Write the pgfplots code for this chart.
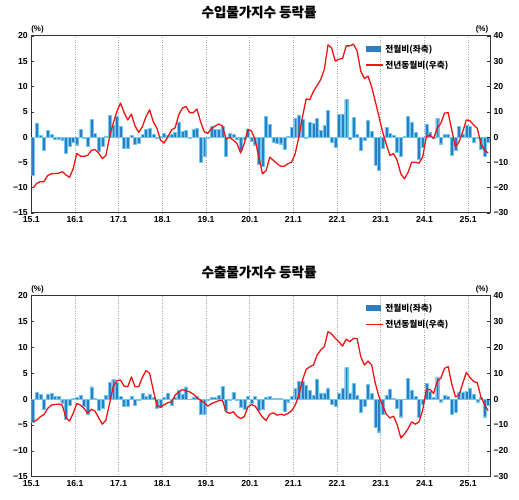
\documentclass[border=0pt]{standalone}
\usepackage{pgfplots}
\pgfplotsset{compat=1.18}
\usepackage{pgfplotstable}
\usepackage{fontspec}
\setmainfont{Liberation Sans}
\newfontfamily\kr{Noto Sans CJK KR}

\definecolor{barblue}{RGB}{45,125,195}
\definecolor{baredge}{RGB}{110,200,240}
\definecolor{linered}{RGB}{240,20,20}

% i = month index from 2015.01, b = m/m change (left), l = y/y change (right)
\pgfplotstableread{
i b l
0 -7.5 -20.1
1 2.8 -18.3
2 0.3 -17.6
3 -2.5 -17.6
4 1.3 -15.2
5 0.6 -14.5
6 -0.4 -14.4
7 -0.4 -14.3
8 -0.7 -13.6
9 -3.2 -14.9
10 -1.8 -15.9
11 -1.1 -12.5
12 -1.5 -6.5
13 1.5 -7.5
14 -0.2 -7.6
15 -1.8 -7.2
16 3.5 -5.2
17 0.8 -4.9
18 -2.8 -6.3
19 -1.8 -8.5
20 0.2 -7.2
21 4.3 0.1
22 2.4 5.5
23 4.2 10.1
24 2.2 13.5
25 -2.2 9.7
26 -2.2 6.8
27 0.3 9.1
28 -1.4 4.4
29 -1.2 1.9
30 0.5 4.1
31 1.5 8.1
32 1.7 10.8
33 0.6 6.1
34 -0.3 3.5
35 0.1 -1.2
36 0.7 -2.3
37 0.3 0.1
38 0.6 2.8
39 1.0 3.7
40 3.0 8.8
41 1.2 11.5
42 1.3 12.1
43 -0.3 9.7
44 1.6 9.7
45 1.7 11.1
46 -4.9 6.1
47 -3.7 2.1
48 -0.2 1.5
49 2.2 3.5
50 1.6 4.4
51 1.6 5.2
52 2.2 4.4
53 -3.7 -0.7
54 0.8 -0.1
55 0.5 -1.2
56 -0.5 -2.5
57 -2.5 -6.3
58 -0.5 -2.5
59 1.5 3.1
60 -0.8 2.4
61 -1.5 -1.2
62 -5.3 -7.9
63 -5.8 -14.5
64 4.1 -13.2
65 2.5 -7.9
66 -1.0 -9.2
67 -1.2 -10.5
68 -1.3 -11.5
69 -2.3 -11.5
70 0.1 -10.5
71 2.0 -9.9
72 3.7 -6.5
73 4.4 0.1
74 3.5 8.1
75 -0.3 15.1
76 3.0 14.8
77 2.7 18.1
78 3.7 20.4
79 1.3 22.8
80 2.3 26.8
81 5.3 36.5
82 -1.0 35.2
83 -2.0 30.1
84 4.5 30.8
85 4.6 31.1
86 7.5 36.1
87 -0.5 36.1
88 3.9 36.8
89 0.5 34.1
90 -2.5 26.1
91 -0.6 23.2
92 3.3 24.1
93 1.2 19.9
94 -5.5 14.1
95 -6.5 8.1
96 -2.2 2.1
97 2.0 -2.8
98 0.8 -7.2
99 0.3 -6.5
100 -2.9 -9.2
101 -3.7 -14.5
102 0.1 -16.5
103 4.1 -13.9
104 3.0 -9.9
105 1.0 -9.9
106 -4.3 -10.3
107 -2.0 -7.9
108 2.6 0.1
109 1.0 0.8
110 -0.3 -0.5
111 3.7 3.5
112 -1.3 5.5
113 0.5 9.5
114 0.5 9.7
115 -3.5 2.8
116 -2.6 -3.9
117 2.1 -1.9
118 0.5 2.1
119 2.3 6.8
120 2.2 6.5
121 -1.1 4.8
122 -0.3 3.5
123 -2.3 -2.5
124 -3.7 -5.2
125 -1.0 -6.3
}\importdata

\pgfplotstableread{
i b l
0 -4.4 -8.8
1 1.3 -8.1
2 0.9 -6.8
3 -1.9 -5.9
4 1.0 -3.6
5 1.1 -2.3
6 0.5 -2.1
7 0.5 -1.9
8 -0.8 -2.3
9 -3.9 -7.2
10 -1.2 -8.5
11 0.2 -5.5
12 0.4 -1.7
13 0.8 -2.3
14 -1.3 -3.6
15 -2.9 -5.5
16 2.4 -3.9
17 0.1 -4.6
18 -2.2 -7.2
19 -1.8 -9.7
20 0.7 -8.1
21 3.3 -1.7
22 3.8 4.8
23 3.3 7.1
24 0.5 7.4
25 -1.4 5.0
26 -1.4 4.8
27 0.6 8.6
28 -1.2 4.8
29 -0.3 4.8
30 1.1 8.4
31 0.6 11.0
32 1.0 10.0
33 0.3 3.5
34 -1.7 -2.3
35 -1.5 -3.2
36 0.3 -2.1
37 1.2 -1.4
38 -1.2 -1.0
39 0.3 1.5
40 1.8 2.8
41 1.0 3.7
42 2.4 3.2
43 0.0 2.8
44 0.3 1.9
45 0.5 0.6
46 -3.0 -0.4
47 -2.9 -1.4
48 -0.3 -2.7
49 0.4 -1.7
50 0.3 -1.2
51 0.7 -0.6
52 2.5 -0.4
53 -2.2 -4.9
54 -0.3 -5.5
55 1.3 -4.9
56 -0.3 -6.6
57 -1.6 -7.5
58 -2.0 -6.8
59 0.5 -3.0
60 -0.8 -2.1
61 0.6 -2.7
62 -2.1 -4.9
63 -2.0 -7.0
64 0.4 -8.3
65 0.5 -5.8
66 0.1 -5.3
67 0.1 -6.2
68 0.1 -5.8
69 -2.3 -6.2
70 -0.5 -5.5
71 0.5 -4.5
72 2.1 -2.3
73 3.5 1.5
74 3.5 7.4
75 2.6 11.5
76 1.7 12.5
77 0.7 13.2
78 3.9 17.0
79 1.2 19.0
80 1.2 20.3
81 2.2 26.1
82 -0.9 25.2
83 -1.3 23.5
84 1.2 22.2
85 2.1 20.5
86 6.1 23.2
87 1.2 22.2
88 3.0 23.5
89 0.8 23.4
90 -2.5 16.4
91 -1.4 13.2
92 2.8 14.7
93 1.1 13.2
94 -5.5 6.1
95 -6.3 0.9
96 -3.0 -2.3
97 0.8 -5.8
98 2.0 -7.3
99 0.2 -6.6
100 -1.7 -9.9
101 -3.4 -15.0
102 0.0 -13.5
103 4.0 -11.4
104 1.8 -8.8
105 0.5 -9.7
106 -3.5 -8.8
107 -1.0 -4.3
108 3.0 3.5
109 1.5 3.8
110 0.3 2.2
111 4.3 6.8
112 -0.5 8.1
113 0.7 11.9
114 0.6 12.6
115 -2.9 5.8
116 -2.6 0.9
117 1.3 1.6
118 1.4 6.1
119 1.5 10.3
120 2.2 8.4
121 1.0 6.8
122 -0.5 6.4
123 0.3 0.9
124 -3.4 -2.1
125 -1.2 -4.5
}\exportdata

\pgfplotsset{
  panel/.style={
    scale only axis, width=458.7pt, anchor=south west,
    xmin=-0.5, xmax=125.5,
    axis line style={line width=1pt, black!80},
    tick align=inside, major tick length=3pt,
    tick style={black!80, line width=0.6pt},
    ticklabel style={font=\bfseries\fontsize{8.7}{10}\selectfont},
  },
  barax/.style={
    panel,
    ymin=-15, ymax=20, ytick={-15,-10,...,20},
    yticklabels={−15,−10,−5,0,5,10,15,20},
    ytick pos=left,
    xtick={-0.5,11.5,...,119.5},
    xticklabels={15.1,16.1,17.1,18.1,19.1,20.1,21.1,22.1,23.1,24.1,25.1},
    xtick style={draw=none},
    xmajorgrids, major grid style={dotted, black!35, line width=0.6pt},
  },
  lineax/.style={
    panel,
    ymin=-30, ymax=40, ytick={-30,-20,...,40},
    yticklabels={−30,−20,−10,0,10,20,30,40},
    axis y line*=right, hide x axis,
    legend style={draw=none, fill=none, font=\kr\bfseries\fontsize{8.7}{10}\selectfont,
      anchor=north west, row sep=3pt, inner sep=1pt},
    legend cell align=left,
  },
}

\newcommand\panelbars[1]{%
  \draw[black!35, line width=0.6pt] (axis cs:-0.5,0) -- (axis cs:125.5,0);
  \addplot[ybar, bar width=3pt, fill=barblue, draw=baredge, line width=0.4pt]
    table[x=i, y=b] {#1};
}
\newcommand\panelline[1]{%
  \addlegendimage{legend image code/.code={\fill[barblue] (0pt,-2pt) rectangle (14pt,3pt);}}
  \addlegendentry{전월비(좌축)}
  \addplot[linered, line width=1.3pt, no markers, line join=round] table[x=i, y=l] {#1};
  \addlegendentry{전년동월비(우축)}
}

\begin{document}
\begin{tikzpicture}
\useasboundingbox (0,0) rectangle (519pt,500pt);

% titles
\node[font=\kr\bfseries\fontsize{13.5}{15}\selectfont, text=black!30] at (259.6pt,487.3pt) {수입물가지수 등락률};
\node[font=\kr\bfseries\fontsize{13.5}{15}\selectfont] at (259pt,488pt) {수입물가지수 등락률};
\node[font=\kr\bfseries\fontsize{13.5}{15}\selectfont, text=black!30] at (259.6pt,227.3pt) {수출물가지수 등락률};
\node[font=\kr\bfseries\fontsize{13.5}{15}\selectfont] at (259pt,228pt) {수출물가지수 등락률};

% unit labels
\foreach \yy in {471pt,211pt}{
  \node[font=\bfseries\fontsize{8}{9}\selectfont] at (37.5pt,\yy) {(\%)};
  \node[font=\bfseries\fontsize{8}{9}\selectfont] at (482pt,\yy) {(\%)};
}

% import prices
\begin{axis}[barax, at={(31.3pt,287pt)}, height=177pt]
  \panelbars{\importdata}
\end{axis}
\begin{axis}[lineax, at={(31.3pt,287pt)}, height=177pt,
    legend style={at={(0.725,0.968)}}]
  \panelline{\importdata}
\end{axis}

% export prices
\begin{axis}[barax, at={(31.3pt,23.3pt)}, height=181pt]
  \panelbars{\exportdata}
\end{axis}
\begin{axis}[lineax, at={(31.3pt,23.3pt)}, height=181pt,
    legend style={at={(0.725,0.972)}}]
  \panelline{\exportdata}
\end{axis}
\end{tikzpicture}
\end{document}
